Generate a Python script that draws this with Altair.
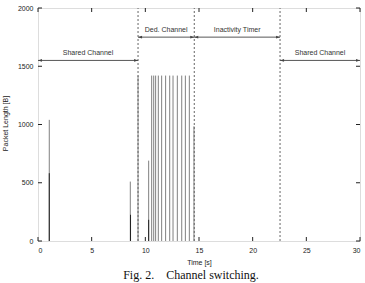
import altair as alt
import pandas as pd

# ---- data ----
spike_time = [1.05, 8.60, 10.31, 9.32, 10.59, 10.78, 10.96, 11.21, 11.52, 11.89,
              12.27, 12.58, 12.98, 13.39, 13.73, 14.10, 14.53]
spike_len = [1040, 510, 690, 1420, 1420, 1420, 1420, 1420, 1420, 1420,
             1420, 1420, 1420, 1420, 1420, 1420, 985]

dark_time = [1.05, 8.62, 10.31]
dark_len = [582, 225, 182]

switch_time = [9.32, 14.56, 22.55]

phase_start = [0.0, 9.32, 14.56, 22.55]
phase_end = [9.32, 14.56, 22.55, 30.0]
phase_level = [1550, 1750, 1750, 1550]
phase_label = ["Shared Channel", "Ded. Channel", "Inactivity Timer", "Shared Channel"]

x_ticks = [0, 5, 10, 15, 20, 25, 30]
y_ticks = [0, 500, 1000, 1500, 2000]

W, H = 322, 233
FONT = "Liberation Sans"

spikes = pd.DataFrame({"t": spike_time, "len": spike_len})
dark = pd.DataFrame({"t": dark_time, "len": dark_len})
switches = pd.DataFrame({"t": switch_time})
phases = pd.DataFrame({"s": phase_start, "e": phase_end, "lvl": phase_level, "label": phase_label})
xt = pd.DataFrame({"v": x_ticks})
yt = pd.DataFrame({"v": y_ticks})

xs = alt.Scale(domain=[0, 30], nice=False, zero=False)
ys = alt.Scale(domain=[0, 2000], nice=False)

x_axis = alt.Axis(values=x_ticks, format="d", title="Time [s]", ticks=False, domain=False, grid=False,
                  labelFontSize=7, labelFont=FONT, labelColor="#222", labelPadding=5,
                  titleFontSize=7, titleFont=FONT, titleFontWeight="normal", titleColor="#222",
                  titleBaseline="middle", titleY=21)
y_axis = alt.Axis(values=y_ticks, format="d", title="Packet Length [B]", ticks=False, domain=False, grid=False,
                  labelFontSize=7, labelFont=FONT, labelColor="#222", labelPadding=5,
                  titleFontSize=7, titleFont=FONT, titleFontWeight="normal", titleColor="#222",
                  titleAngle=270, titleBaseline="middle", titleAlign="center",
                  titleX=-33, titleY=115)

base_spk = alt.Chart(spikes).mark_rule(color="#808080", strokeWidth=1).encode(
    x=alt.X("t:Q", scale=xs, axis=x_axis),
    y=alt.Y("len:Q", scale=ys, axis=y_axis),
    y2=alt.datum(0),
)

dark_spk = alt.Chart(dark).mark_rule(color="#222222", strokeWidth=1).encode(
    x=alt.X("t:Q", scale=xs),
    y=alt.Y("len:Q", scale=ys),
    y2=alt.datum(0),
)

sw = alt.Chart(switches).mark_rule(color="#666666", strokeWidth=1, strokeDash=[2, 2]).encode(
    x=alt.X("t:Q", scale=xs),
    y=alt.datum(0),
    y2=alt.datum(2000),
)

arrow_line = alt.Chart(phases).mark_rule(color="#444444", strokeWidth=0.9).encode(
    x=alt.X("s:Q", scale=xs),
    x2="e:Q",
    y=alt.Y("lvl:Q", scale=ys),
)

left_head = alt.Chart(phases).mark_point(
    shape="M0,0L2,-0.7L2,0.7Z", filled=True, color="#444444", size=16, opacity=1
).encode(x=alt.X("s:Q", scale=xs), y=alt.Y("lvl:Q", scale=ys))

right_head = alt.Chart(phases).mark_point(
    shape="M0,0L-2,-0.7L-2,0.7Z", filled=True, color="#444444", size=16, opacity=1
).encode(x=alt.X("e:Q", scale=xs), y=alt.Y("lvl:Q", scale=ys))

labels = alt.Chart(phases).transform_calculate(
    mid="(datum.s + datum.e) / 2"
).mark_text(font=FONT, fontSize=7, color="#333333", dy=-7, baseline="middle").encode(
    x=alt.X("mid:Q", scale=xs),
    y=alt.Y("lvl:Q", scale=ys),
    text="label:N",
)

tick_b = alt.Chart(xt).mark_rule(color="#222", strokeWidth=1).encode(
    x=alt.X("v:Q", scale=xs), y=alt.value(H), y2=alt.value(H - 4))
tick_t = alt.Chart(xt).mark_rule(color="#222", strokeWidth=1).encode(
    x=alt.X("v:Q", scale=xs), y=alt.value(0), y2=alt.value(4))
tick_l = alt.Chart(yt).mark_rule(color="#222", strokeWidth=1).encode(
    y=alt.Y("v:Q", scale=ys), x=alt.value(0), x2=alt.value(4))
tick_r = alt.Chart(yt).mark_rule(color="#222", strokeWidth=1).encode(
    y=alt.Y("v:Q", scale=ys), x=alt.value(W), x2=alt.value(W - 4))

chart = alt.layer(
    base_spk, dark_spk, sw, arrow_line, left_head, right_head, labels,
    tick_b, tick_t, tick_l, tick_r
).properties(
    width=W,
    height=H,
    autosize=alt.AutoSizeParams(type="none"),
    padding={"left": 38, "top": 8, "right": 5, "bottom": 42},
    title=alt.TitleParams(
        text="Fig. 2.\u00a0\u00a0\u00a0\u00a0Channel switching.",
        orient="bottom", anchor="middle", font="Liberation Serif", fontSize=12,
        fontWeight="normal", color="#111", dx=-8, offset=5,
    ),
).configure_view(stroke="#222222", strokeWidth=1).configure(background="white")

chart.save("out.html", embed_options={"renderer": "svg", "actions": False})
